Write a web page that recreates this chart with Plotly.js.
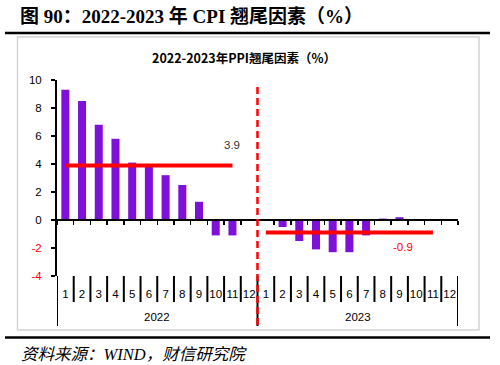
<!DOCTYPE html>
<html>
<head>
<meta charset="utf-8">
<script src="https://cdn.plot.ly/plotly-3.0.1.min.js"></script>
<style>html,body{margin:0;padding:0;background:#fff;}#chart{width:500px;height:365px;}</style>
</head>
<body>
<div id="chart"></div>
<script>
// ---- data ----
const years = ['2022', '2023'];
const months = ['1','2','3','4','5','6','7','8','9','10','11','12'];
const tail2022 = [9.3, 8.5, 6.8, 5.8, 4.1, 3.9, 3.2, 2.5, 1.3, -1.1, -1.1, null];
const tail2023 = [null, -0.5, -1.5, -2.1, -2.3, -2.3, -1.1, 0.1, 0.2, null, null, null];
const mean2022 = [3.9, 3.9, 3.9, 3.9, 3.9, 3.9, 3.9, 3.9, 3.9, 3.9, 3.9, null];
const mean2023 = [-0.9, -0.9, -0.9, -0.9, -0.9, -0.9, -0.9, -0.9, -0.9, -0.9, -0.9, null];
const meanLabels = ['3.9', '-0.9'];
const yTicks = [-4, -2, 0, 2, 4, 6, 8, 10];

// ---- layout helpers ----
const W = 500, H = 365;
const M = {l: 57, r: 42, t: 80, b: 89};
const PW = W - M.l - M.r, PH = H - M.t - M.b;
const px = x => (x - M.l) / PW;
const py = y => (H - M.b - y) / PH;

const nM = months.length;
const idx2022 = months.map((m, i) => i);
const idx2023 = months.map((m, i) => i + nM);
const allIdx = idx2022.concat(idx2023);
const allMonths = months.concat(months);
const barColor = '#7f10d8';
const red = '#ff0000';

const traces = [
  {type: 'bar', x: idx2022, y: tail2022, marker: {color: barColor}, width: 0.48, xaxis: 'x', yaxis: 'y', hoverinfo: 'none'},
  {type: 'bar', x: idx2023, y: tail2023, marker: {color: barColor}, width: 0.48, xaxis: 'x', yaxis: 'y', hoverinfo: 'none'},
  {type: 'scatter', mode: 'lines', x: idx2022, y: mean2022, line: {color: red, width: 4}, xaxis: 'x2', yaxis: 'y', hoverinfo: 'none'},
  {type: 'scatter', mode: 'lines', x: idx2023, y: mean2023, line: {color: red, width: 4}, xaxis: 'x2', yaxis: 'y', hoverinfo: 'none'}
];

const shapes = [];
// outer frame
shapes.push({type: 'rect', xref: 'paper', yref: 'paper', x0: px(17.5), x1: px(479), y0: py(330), y1: py(37),
  line: {color: '#d4d4d4', width: 1.5}, fillcolor: 'rgba(0,0,0,0)', layer: 'below'});
// rules under the title and above the source
shapes.push({type: 'line', xref: 'paper', yref: 'paper', x0: px(5), x1: px(490), y0: py(33), y1: py(33), line: {color: '#000', width: 2.5}});
shapes.push({type: 'line', xref: 'paper', yref: 'paper', x0: px(5), x1: px(490), y0: py(337.5), y1: py(337.5), line: {color: '#000', width: 2.5}});
// category separators
for (let i = 0; i <= allIdx.length; i++) {
  const isYear = i % nM === 0;
  shapes.push({type: 'line', xref: 'x', yref: 'paper', x0: i - 0.5, x1: i - 0.5,
    y0: 0, y1: isYear ? py(326) : py(302), line: {color: '#000', width: 2}});
}
// year divider (red dashed)
shapes.push({type: 'line', xref: 'x', yref: 'paper', x0: nM - 0.5, x1: nM - 0.5, y0: py(325), y1: py(87),
  line: {color: red, width: 2.5, dash: '7px,4px'}});

const annotations = [];
annotations.push({xref: 'paper', yref: 'paper', x: px(18), y: py(16), xanchor: 'left', yanchor: 'middle', showarrow: false,
  text: '<b>图 90：2022-2023 年 CPI 翘尾因素（%）</b>',
  font: {family: '"Liberation Serif", "Noto Sans CJK SC", serif', size: 19, color: '#000'}});
annotations.push({xref: 'paper', yref: 'paper', x: px(244), y: py(57), xanchor: 'center', yanchor: 'middle', showarrow: false,
  text: '<b>2022-2023年PPI翘尾因素（%）</b>',
  font: {family: '"Noto Sans CJK SC", sans-serif', size: 12.5, color: '#000'}});
annotations.push({xref: 'paper', yref: 'paper', x: px(19), y: py(354), xanchor: 'left', yanchor: 'middle', showarrow: false,
  text: '资料来源：WIND，财信研究院',
  font: {family: '"Liberation Serif", "Noto Sans CJK SC", serif', size: 16.5, color: '#000', style: 'italic'}});
years.forEach((yr, k) => {
  annotations.push({xref: 'x', yref: 'paper', x: k * nM + (nM - 1) / 2, y: py(317), xanchor: 'center', yanchor: 'middle',
    showarrow: false, text: yr, font: {family: '"Liberation Sans", sans-serif', size: 11.5, color: '#000'}});
});
annotations.push({xref: 'x', yref: 'y', x: 10, y: 5.35, showarrow: false, text: meanLabels[0],
  font: {family: '"Liberation Sans", sans-serif', size: 11.5, color: '#333'}});
annotations.push({xref: 'x', yref: 'y', x: 20.2, y: -1.9, showarrow: false, text: meanLabels[1],
  font: {family: '"Liberation Sans", sans-serif', size: 11.5, color: red}});

const layout = {
  width: W, height: H,
  margin: M,
  paper_bgcolor: '#fff', plot_bgcolor: 'rgba(0,0,0,0)',
  showlegend: false,
  barmode: 'overlay',
  font: {family: '"Liberation Sans", sans-serif', size: 11.5, color: '#000'},
  xaxis: {
    type: 'linear', range: [-0.5, allIdx.length - 0.5],
    tickvals: allIdx, ticktext: allMonths, ticks: '', ticklabelstandoff: 9,
    showline: false, showgrid: false, zeroline: false,
    tickfont: {size: 11.5, color: '#000'}
  },
  xaxis2: {
    type: 'linear', range: [-0.5, allIdx.length - 0.5], overlaying: 'x', anchor: 'free',
    position: (0 - yTicks[0]) / (yTicks[yTicks.length - 1] - yTicks[0]), side: 'bottom',
    showline: true, linecolor: '#000', linewidth: 2,
    ticks: 'outside', ticklen: 4, tickwidth: 1.5, tickcolor: '#000',
    tickvals: allIdx.concat([allIdx.length]).map(i => i - 0.5),
    showticklabels: false, showgrid: false, zeroline: false
  },
  yaxis: {
    range: [yTicks[0], yTicks[yTicks.length - 1]],
    tickvals: yTicks,
    ticktext: yTicks.map(v => v < 0 ? '<span style="color:#ff0000">' + v + '</span>' : String(v)),
    ticks: 'outside', ticklen: 4, tickwidth: 1.5, tickcolor: '#000', ticklabelstandoff: 7,
    showline: true, linecolor: '#000', linewidth: 2,
    showgrid: false, zeroline: false,
    tickfont: {size: 11.5, color: '#000'}
  },
  shapes: shapes,
  annotations: annotations
};

Plotly.newPlot('chart', traces, layout, {displayModeBar: false, staticPlot: true});
</script>
</body>
</html>
